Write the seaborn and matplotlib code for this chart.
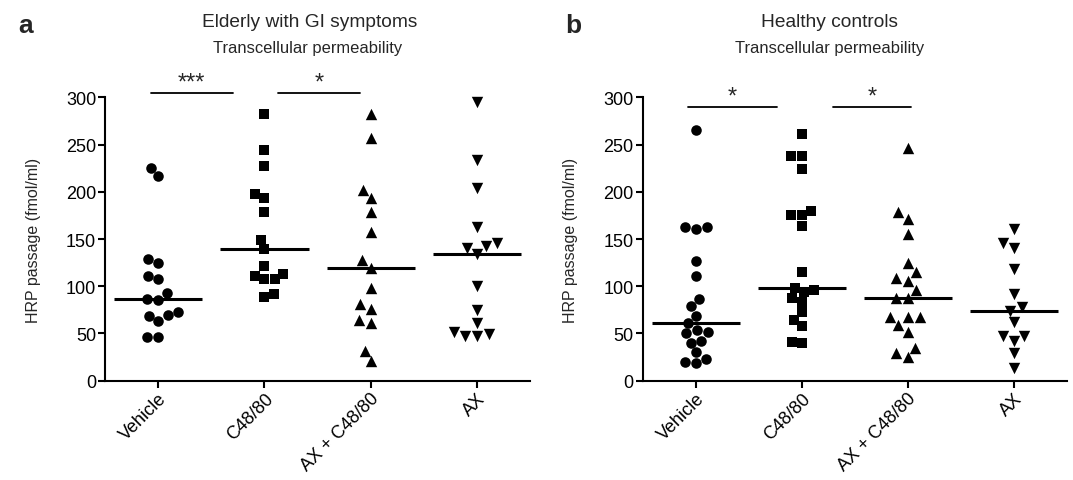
import matplotlib
matplotlib.use('Agg')
import matplotlib.pyplot as plt
import numpy as np
import pandas as pd
import seaborn as sns

# treatment groups and HRP passage (fmol/ml)
groups = ['Vehicle', 'C48/80', 'AX + C48/80', 'AX']

elderly_vehicle = [224.8, 216.3, 128.8, 124.6, 111.2, 107.6, 92.8, 85.8, 86.5,
                   63.5, 69.5, 68.8, 73.1, 46.6, 46.6]
elderly_c4880 = [282.3, 244.6, 226.9, 197.6, 193.0, 178.9, 148.9, 139.4, 121.7,
                 112.9, 107.6, 107.6, 110.5, 92.1, 88.9]
elderly_ax_c4880 = [282.3, 256.6, 201.9, 193.0, 178.9, 157.0, 127.8, 119.3, 97.8,
                    81.2, 75.9, 64.6, 61.1, 31.8, 21.2]
elderly_ax = [295.4, 233.6, 204.0, 162.3, 145.7, 140.1, 134.1, 142.2, 100.6,
              75.2, 60.7, 49.4, 46.9, 47.6, 51.2]

healthy_vehicle = [265.4, 162.3, 160.6, 162.3, 126.3, 111.2, 86.5, 78.7, 68.8,
                   61.1, 51.2, 50.1, 53.6, 42.3, 39.9, 30.0, 22.9, 18.4, 19.4]
healthy_c4880 = [261.1, 237.5, 238.2, 224.1, 175.7, 175.4, 180.0, 164.1, 114.7,
                 97.8, 96.3, 93.5, 83.6, 87.5, 73.1, 64.6, 57.5, 39.9, 41.3]
healthy_ax_c4880 = [246.0, 178.2, 171.2, 155.3, 124.6, 108.3, 114.7, 105.9, 96.0,
                    87.2, 87.2, 67.1, 67.1, 67.1, 58.9, 51.2, 34.2, 24.7, 28.9]
healthy_ax = [160.6, 145.7, 140.5, 118.2, 91.8, 77.6, 74.1, 62.5, 47.6, 42.3,
              47.6, 29.3, 13.4]

# significance brackets: (from group, to group, label)
elderly_sig = [(0, 1, '***'), (1, 2, '*')]
healthy_sig = [(0, 1, '*'), (1, 2, '*')]

markers = ['o', 's', '^', 'v']
msizes = [7.6, 7.0, 8.2, 8.2]

sns.set_theme(style='ticks')
plt.rcParams['font.family'] = ['Liberation Sans', 'DejaVu Sans']
plt.rcParams['axes.linewidth'] = 1.5
plt.rcParams['xtick.major.width'] = 1.5
plt.rcParams['ytick.major.width'] = 1.5
plt.rcParams['xtick.major.size'] = 5
plt.rcParams['ytick.major.size'] = 5
plt.rcParams['axes.edgecolor'] = 'black'
plt.rcParams['xtick.color'] = 'black'
plt.rcParams['ytick.color'] = 'black'


def make_frame(series):
    rows = []
    for g, vals in zip(groups, series):
        for v in vals:
            rows.append({'group': g, 'hrp': v})
    return pd.DataFrame(rows)


def draw_panel(ax, df, sig, bar_y, bar_spans):
    for g, m, s in zip(groups, markers, msizes):
        sub = df[df['group'] == g]
        sns.swarmplot(data=sub, x='group', y='hrp', order=groups, marker=m,
                      color='black', size=s, linewidth=0, ax=ax, clip_on=False)
    # median lines
    for i, g in enumerate(groups):
        med = np.median(df.loc[df['group'] == g, 'hrp'])
        ax.hlines(med, i - 0.415, i + 0.415, color='black', linewidth=2.2, zorder=5)
    # significance bars
    for (a, b, label), (x0, x1) in zip(sig, bar_spans):
        ax.plot([a + x0, b + x1], [bar_y, bar_y], color='black', lw=1.3, clip_on=False)
        ax.text((a + x0 + b + x1) / 2, bar_y - 1, label, ha='center', va='bottom',
                fontsize=17, clip_on=False)
    ax.set_xlim(-0.5, 3.5)
    ax.set_ylim(0, 300)
    ax.set_yticks(np.arange(0, 301, 50))
    ax.set_xlabel('')
    ax.set_ylabel('HRP passage (fmol/ml)', fontsize=11.5, labelpad=18)
    ax.tick_params(axis='both', labelsize=13, pad=1.5)
    ax.set_xticks(range(len(groups)))
    ax.set_xticklabels(groups, rotation=45, ha='right', rotation_mode='anchor')
    sns.despine(ax=ax)


fig = plt.figure(figsize=(10.73, 4.81), dpi=100)
ax_a = fig.add_axes([0.098, 0.2064, 0.396, 0.5892])
ax_b = fig.add_axes([0.599, 0.2064, 0.395, 0.5892])

df_a = make_frame([elderly_vehicle, elderly_c4880, elderly_ax_c4880, elderly_ax])
df_b = make_frame([healthy_vehicle, healthy_c4880, healthy_ax_c4880, healthy_ax])

draw_panel(ax_a, df_a, elderly_sig, 305, [(-0.07, -0.30), (0.13, -0.10)])
draw_panel(ax_b, df_b, healthy_sig, 290, [(-0.075, -0.23), (0.30, 0.03)])

fig.text(0.024, 0.946, 'a', fontsize=19, fontweight='bold', ha='center', va='center')
fig.text(0.534, 0.946, 'b', fontsize=19, fontweight='bold', ha='center', va='center')
fig.text(0.289, 0.954, 'Elderly with GI symptoms', fontsize=13.8, ha='center', va='center')
fig.text(0.287, 0.900, 'Transcellular permeability', fontsize=11.9, ha='center', va='center')
fig.text(0.7735, 0.954, 'Healthy controls', fontsize=13.8, ha='center', va='center')
fig.text(0.7735, 0.900, 'Transcellular permeability', fontsize=11.9, ha='center', va='center')

fig.savefig('out.png', dpi=100)
